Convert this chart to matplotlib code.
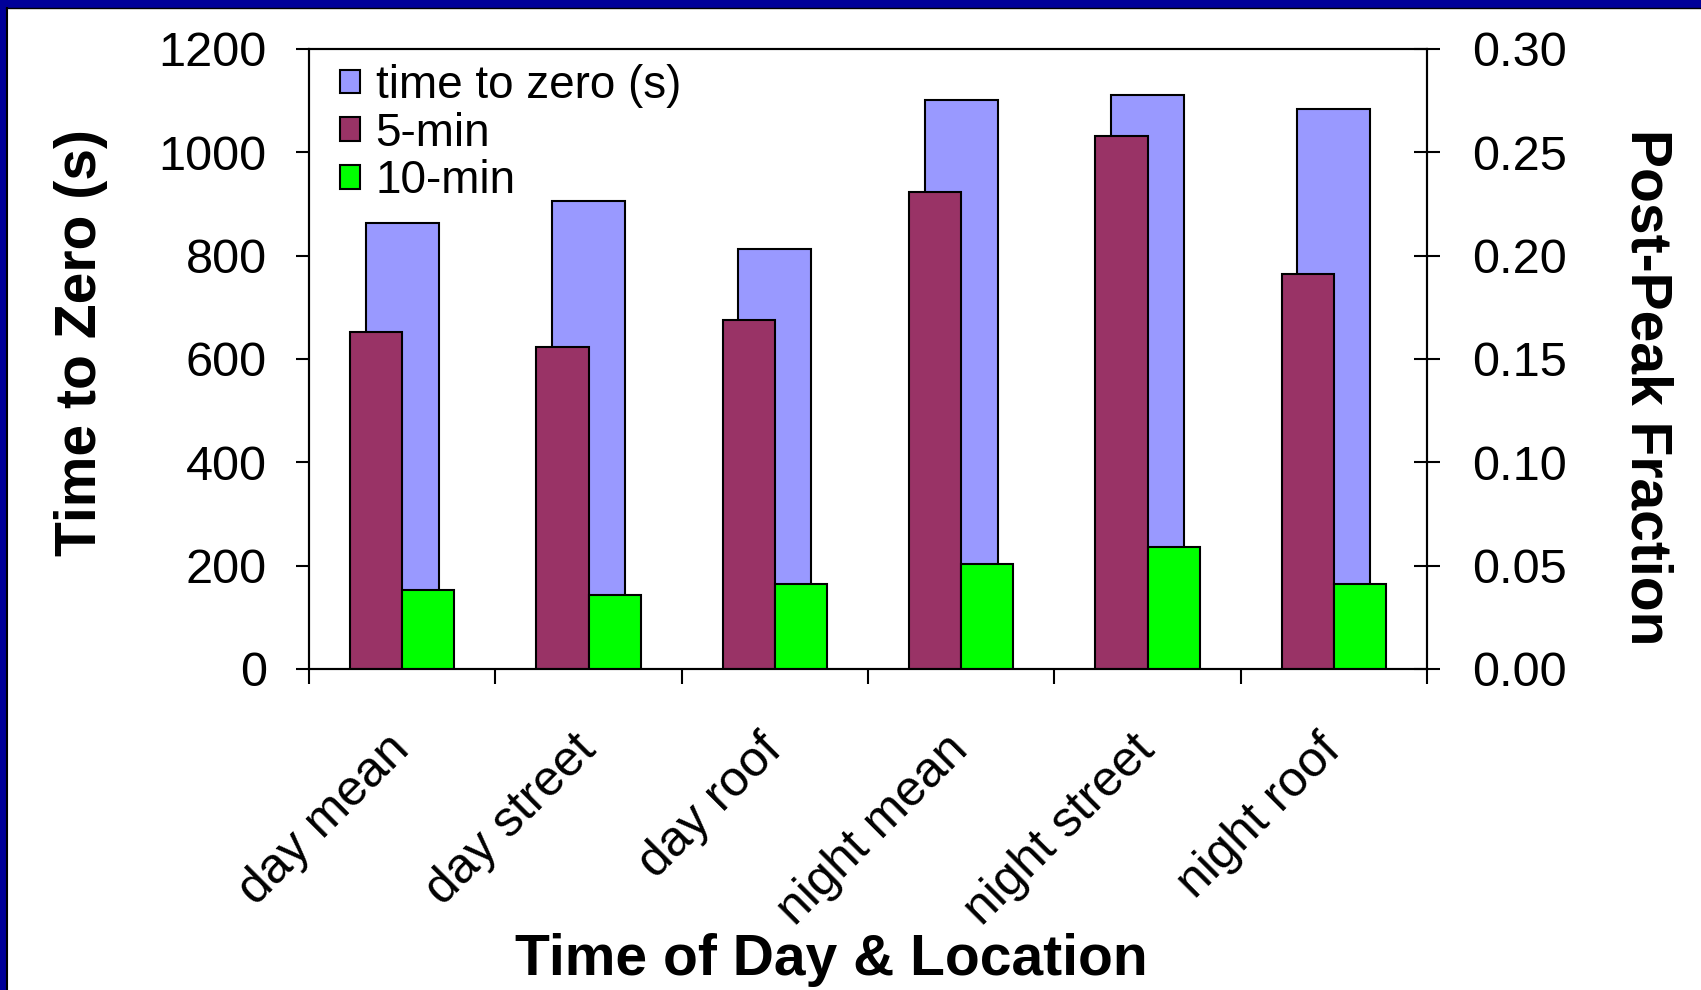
import numpy as np
import matplotlib
matplotlib.use('Agg')
import matplotlib.pyplot as plt
from matplotlib.patches import Rectangle, Patch
from matplotlib.lines import Line2D

plt.rcParams['font.family'] = ['Liberation Sans', 'DejaVu Sans']

# data
categories = ['day mean', 'day street', 'day roof', 'night mean', 'night street', 'night roof']
time_to_zero = [864, 906, 812, 1101, 1111, 1084]          # left axis, s
frac_5min = [0.163, 0.156, 0.169, 0.231, 0.258, 0.191]    # right axis
frac_10min = [0.038, 0.036, 0.041, 0.051, 0.059, 0.041]   # right axis

blue = '#9999FF'
red = '#993366'
green = '#00FF00'
frame_blue = '#000099'

fig = plt.figure(figsize=(17.01, 9.90), dpi=100)
ax = fig.add_axes([309/1701, 1-669/990, 1118/1701, 620/990])
ax2 = ax.twinx()

x = np.arange(len(categories))
ax.bar(x, time_to_zero, 0.39, color=blue, edgecolor='black', linewidth=1.5, zorder=2)
ax2.bar(x - 0.14, frac_5min, 0.28, color=red, edgecolor='black', linewidth=1.5)
ax2.bar(x + 0.14, frac_10min, 0.28, color=green, edgecolor='black', linewidth=1.5)

ax.set_xlim(-0.5, len(categories) - 0.5)
ax.set_ylim(0, 1200)
ax2.set_ylim(0, 0.30)
ax.set_yticks(np.arange(0, 1201, 200))
ax2.set_yticks(np.arange(0, 0.301, 0.05))
ax2.set_yticklabels(['%.2f' % v for v in np.arange(0, 0.301, 0.05)])

# category labels at centres, tick marks at boundaries
ax.set_xticks(x)
ax.set_xticklabels(categories, rotation=45, ha='right', va='center',
                   rotation_mode='anchor', fontsize=36)
ax.set_xticks(np.arange(-0.5, len(categories)), minor=True)
ax.tick_params(axis='x', which='major', length=0, pad=53)
ax.tick_params(axis='x', which='minor', length=11, width=1.5, direction='out')
ax.tick_params(axis='y', length=9.4, width=1.5, direction='out', pad=21, labelsize=35)
ax2.tick_params(axis='y', length=18.7, width=1.5, direction='inout', pad=23, labelsize=35)

for a in (ax, ax2):
    for s in a.spines.values():
        s.set_linewidth(1.5)

ax.set_ylabel('Time to Zero (s)', fontsize=41, fontweight='bold', va='center')
ax.yaxis.set_label_coords(-0.204, 0.527)
ax2.set_ylabel('Post-Peak Fraction', fontsize=41, fontweight='bold',
               rotation=270, va='center')
ax2.yaxis.set_label_coords(1.196, 0.455)
ax.set_xlabel('Time of Day & Location', fontsize=41, fontweight='bold', va='center')
ax.xaxis.set_label_coords(0.467, -0.470)

handles = [Patch(facecolor=blue, edgecolor='black', linewidth=1.5),
           Patch(facecolor=red, edgecolor='black', linewidth=1.5),
           Patch(facecolor=green, edgecolor='black', linewidth=1.5)]
ax2.legend(handles, ['time to zero (s)', '5-min', '10-min'], loc='upper left',
           bbox_to_anchor=(0.028, 0.976), frameon=False, fontsize=33,
           handlelength=0.42, handleheight=0.42, handletextpad=0.35,
           labelspacing=0.08, borderpad=0, borderaxespad=0)

# dark blue slide frame at the top and left
fig.patches.append(Rectangle((0, 1 - 7/990), 1, 7/990, transform=fig.transFigure,
                             color=frame_blue, zorder=0))
fig.patches.append(Rectangle((0, 0), 5/1701, 1, transform=fig.transFigure,
                             color=frame_blue, zorder=0))
fig.lines.append(Line2D([6/1701, 1], [1 - 8/990, 1 - 8/990], transform=fig.transFigure,
                        color='black', linewidth=1))
fig.lines.append(Line2D([6.5/1701, 6.5/1701], [0, 1 - 8/990], transform=fig.transFigure,
                        color='black', linewidth=1.5))

fig.savefig('out.png', dpi=100)
